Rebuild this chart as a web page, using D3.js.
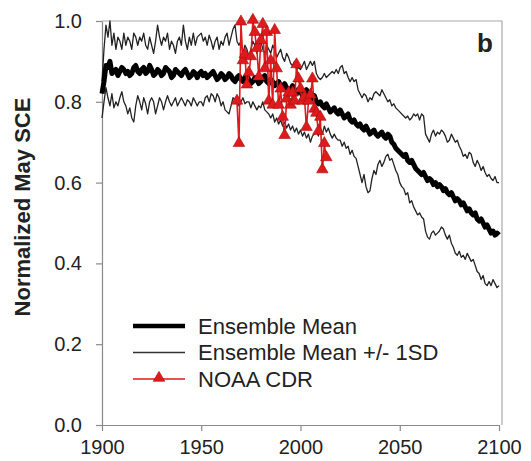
<!DOCTYPE html>
<html>
<head>
<meta charset="utf-8">
<script src="https://cdn.jsdelivr.net/npm/d3@7"></script>
<style>
  body { margin: 0; background: #fff; }
  svg text { font-family: Arial, "Liberation Sans", sans-serif; fill: #222; }
</style>
</head>
<body>
<div class="chart"></div>
<script>
// model years 1900..2100 (categories)
const years = d3.range(1900, 2101)

// ensemble mean, normalized May SCE
const meanSCE = [
  0.82, 0.85, 0.89, 0.885, 0.90, 0.87, 0.875, 0.88, 0.865, 0.875,
  0.885, 0.88, 0.87, 0.875, 0.865, 0.87, 0.885, 0.89, 0.875, 0.87,
  0.88, 0.885, 0.87, 0.875, 0.89, 0.88, 0.865, 0.87, 0.88, 0.875,
  0.865, 0.87, 0.885, 0.88, 0.875, 0.86, 0.865, 0.88, 0.875, 0.87,
  0.865, 0.875, 0.88, 0.87, 0.86, 0.865, 0.875, 0.87, 0.86, 0.87,
  0.875, 0.865, 0.87, 0.86, 0.865, 0.87, 0.875, 0.865, 0.855, 0.86,
  0.87, 0.865, 0.855, 0.86, 0.87, 0.865, 0.855, 0.85, 0.86, 0.865,
  0.855, 0.85, 0.86, 0.865, 0.855, 0.845, 0.85, 0.86, 0.855, 0.845,
  0.85, 0.86, 0.865, 0.85, 0.845, 0.855, 0.85, 0.84, 0.845, 0.85,
  0.84, 0.835, 0.845, 0.835, 0.825, 0.83, 0.84, 0.83, 0.82, 0.83,
  0.825, 0.815, 0.82, 0.83, 0.815, 0.805, 0.81, 0.815, 0.80, 0.795,
  0.80, 0.79, 0.785, 0.795, 0.785, 0.775, 0.78, 0.785, 0.775, 0.77,
  0.78, 0.77, 0.76, 0.765, 0.77, 0.755, 0.75, 0.755, 0.745, 0.74,
  0.745, 0.735, 0.73, 0.74, 0.73, 0.72, 0.725, 0.73, 0.72, 0.715,
  0.72, 0.725, 0.715, 0.71, 0.72, 0.715, 0.70, 0.695, 0.685, 0.68,
  0.675, 0.67, 0.665, 0.67, 0.655, 0.65, 0.655, 0.645, 0.635, 0.63,
  0.625, 0.62, 0.625, 0.615, 0.605, 0.61, 0.605, 0.595, 0.60, 0.59,
  0.595, 0.59, 0.58, 0.585, 0.575, 0.57, 0.575, 0.565, 0.555, 0.56,
  0.555, 0.545, 0.55, 0.54, 0.53, 0.535, 0.525, 0.52, 0.525, 0.51,
  0.505, 0.51, 0.50, 0.49, 0.495, 0.485, 0.475, 0.48, 0.47, 0.475,
  0.47
]

// ensemble mean + 1SD
const upperSCE = [
  0.85, 0.93, 0.99, 0.96, 1.00, 0.94, 0.97, 0.93, 0.96, 0.95,
  0.93, 0.97, 0.94, 0.96, 0.95, 0.93, 0.97, 0.96, 0.94, 0.96,
  0.95, 0.97, 0.94, 0.93, 0.96, 0.94, 0.92, 0.95, 0.99, 0.96,
  0.94, 0.96, 0.95, 0.97, 0.93, 0.95, 0.94, 0.92, 0.95, 0.96,
  0.94, 0.99, 0.95, 0.93, 0.96, 0.94, 0.97, 0.94, 0.96, 0.965,
  0.97, 0.95, 0.96, 0.94, 0.965, 0.95, 0.93, 0.95, 0.96, 0.93,
  0.95, 0.94, 0.96, 0.97, 0.94, 0.96, 0.98, 0.99, 0.95, 0.94,
  0.95, 0.92, 0.94, 0.93, 0.91, 0.93, 0.95, 0.94, 0.92, 0.94,
  0.95, 0.93, 0.92, 0.94, 0.93, 0.92, 0.94, 0.93, 0.91, 0.92,
  0.93, 0.91, 0.90, 0.92, 0.91, 0.895, 0.89, 0.90, 0.88, 0.885,
  0.88, 0.89, 0.90, 0.88, 0.89, 0.90, 0.89, 0.90, 0.87, 0.86,
  0.855, 0.86, 0.87, 0.86, 0.865, 0.87, 0.875, 0.87, 0.88, 0.87,
  0.885, 0.89, 0.87, 0.875, 0.86, 0.85, 0.86, 0.85, 0.855, 0.83,
  0.82, 0.81, 0.82, 0.815, 0.80, 0.81, 0.805, 0.82, 0.825, 0.82,
  0.815, 0.83, 0.82, 0.81, 0.80, 0.805, 0.79, 0.795, 0.785, 0.78,
  0.775, 0.77, 0.765, 0.76, 0.765, 0.755, 0.76, 0.77, 0.765, 0.77,
  0.755, 0.77, 0.765, 0.72, 0.71, 0.70, 0.72, 0.73, 0.715, 0.725,
  0.72, 0.73, 0.725, 0.715, 0.70, 0.705, 0.72, 0.71, 0.70, 0.705,
  0.69, 0.68, 0.665, 0.67, 0.66, 0.675, 0.67, 0.65, 0.64, 0.655,
  0.645, 0.63, 0.64, 0.625, 0.615, 0.62, 0.61, 0.605, 0.615, 0.60,
  0.60
]

// ensemble mean - 1SD
const lowerSCE = [
  0.76, 0.80, 0.835, 0.81, 0.79, 0.82, 0.785, 0.80, 0.79, 0.81,
  0.825, 0.80, 0.79, 0.77, 0.785, 0.76, 0.75, 0.79, 0.815, 0.80,
  0.78, 0.81, 0.795, 0.77, 0.80, 0.81, 0.80, 0.77, 0.79, 0.81,
  0.80, 0.78, 0.80, 0.815, 0.80, 0.79, 0.80, 0.81, 0.79, 0.80,
  0.81, 0.80, 0.79, 0.805, 0.80, 0.79, 0.81, 0.80, 0.79, 0.80,
  0.80, 0.79, 0.81, 0.815, 0.80, 0.82, 0.815, 0.80, 0.82, 0.81,
  0.79, 0.80, 0.78, 0.775, 0.77, 0.79, 0.81, 0.805, 0.80, 0.79,
  0.80, 0.81, 0.795, 0.80, 0.80, 0.785, 0.80, 0.79, 0.78, 0.79,
  0.785, 0.80, 0.78, 0.775, 0.77, 0.76, 0.77, 0.75, 0.76, 0.745,
  0.755, 0.74, 0.75, 0.735, 0.745, 0.73, 0.74, 0.725, 0.735, 0.72,
  0.73, 0.715, 0.725, 0.71, 0.72, 0.70, 0.715, 0.72, 0.73, 0.715,
  0.735, 0.72, 0.74, 0.725, 0.735, 0.72, 0.71, 0.72, 0.71, 0.705,
  0.705, 0.69, 0.70, 0.685, 0.69, 0.67, 0.68, 0.665, 0.66, 0.64,
  0.62, 0.60, 0.62, 0.59, 0.575, 0.58, 0.61, 0.63, 0.62, 0.645,
  0.655, 0.64, 0.65, 0.665, 0.67, 0.655, 0.66, 0.645, 0.63, 0.62,
  0.60, 0.59, 0.585, 0.57, 0.575, 0.55, 0.555, 0.54, 0.53, 0.52,
  0.525, 0.515, 0.51, 0.48, 0.465, 0.46, 0.475, 0.48, 0.47, 0.475,
  0.48, 0.49, 0.485, 0.47, 0.46, 0.47, 0.45, 0.44, 0.425, 0.42,
  0.43, 0.415, 0.42, 0.41, 0.425, 0.415, 0.405, 0.41, 0.395, 0.38,
  0.375, 0.36, 0.37, 0.35, 0.345, 0.355, 0.345, 0.36, 0.35, 0.34,
  0.345
]

// observed NOAA CDR
const noaaYears = d3.range(1968, 2014)
const noaaSCE = [
  0.80, 0.695, 0.996, 0.90, 0.915, 0.84, 0.87, 0.91, 1.00, 0.97,
  0.93, 0.86, 0.95, 0.99, 0.88, 0.97, 0.80, 0.90, 0.79, 0.975,
  0.88, 0.79, 0.83, 0.76, 0.715, 0.805, 0.82, 0.79, 0.82, 0.80,
  0.89, 0.855, 0.83, 0.80, 0.81, 0.735, 0.80, 0.815, 0.855, 0.78,
  0.77, 0.725, 0.76, 0.63, 0.695, 0.66
]

const xTicks = [1900, 1950, 2000, 2050, 2100]
const yTicks = [0, 0.2, 0.4, 0.6, 0.8, 1.0]
const legendLabels = ['Ensemble Mean', 'Ensemble Mean +/- 1SD', 'NOAA CDR']

const svgWidth = 531
const svgHeight = 461
const plot = { left: 102, right: 499, top: 21, bottom: 425 }
const axisColor = '#8a8a8a'
const red = '#e0191c'

const svg = d3.select('.chart')
    .append('svg')
    .attr('width', svgWidth)
    .attr('height', svgHeight)

const xScale = d3.scaleLinear()
    .domain([1900, 2100])
    .range([plot.left, plot.right])

const yScale = d3.scaleLinear()
    .domain([0, 1])
    .range([plot.bottom, plot.top])

// frame top + right
svg.append('path')
    .attr('d', `M${plot.left},${plot.top}H${plot.right + 3}V${plot.bottom}`)
    .attr('fill', 'none')
    .attr('stroke', '#aaa')
    .attr('stroke-width', 1.2)

const xAxis = d3.axisBottom(xScale)
    .tickValues(xTicks)
    .tickFormat(d3.format('d'))
    .tickSize(6)
    .tickSizeOuter(0)
    .tickPadding(9)

const yAxis = d3.axisLeft(yScale)
    .tickValues(yTicks)
    .tickFormat(d3.format('.1f'))
    .tickSize(6)
    .tickSizeOuter(0)
    .tickPadding(14)

const gx = svg.append('g')
    .attr('transform', `translate(0,${plot.bottom})`)
    .call(xAxis)
const gy = svg.append('g')
    .attr('transform', `translate(${plot.left},0)`)
    .call(yAxis)

for (const g of [gx, gy]) {
    g.select('.domain').attr('stroke', axisColor).attr('stroke-width', 1.2)
    g.selectAll('.tick line').attr('stroke', axisColor).attr('stroke-width', 1.2)
    g.selectAll('.tick text')
        .style('font-size', '20px')
        .style('font-family', 'Arial, "Liberation Sans", sans-serif')
        .attr('fill', '#2a2a2a')
}

// series lines
const line = d3.line()
    .x(d => xScale(d[0]))
    .y(d => yScale(d[1]))

const sdLines = [upperSCE, lowerSCE]
svg.append('g')
    .selectAll('path')
    .data(sdLines)
    .enter()
    .append('path')
    .attr('d', s => line(years.map((y, i) => [y, s[i]])))
    .attr('fill', 'none')
    .attr('stroke', '#222')
    .attr('stroke-width', 1.3)
    .attr('stroke-linejoin', 'round')

svg.append('path')
    .attr('d', line(years.map((y, i) => [y, meanSCE[i]])))
    .attr('fill', 'none')
    .attr('stroke', '#000')
    .attr('stroke-width', 5)
    .attr('stroke-linejoin', 'round')

// NOAA observations
const noaa = noaaYears.map((y, i) => [y, noaaSCE[i]])
svg.append('path')
    .attr('d', line(noaa))
    .attr('fill', 'none')
    .attr('stroke', red)
    .attr('stroke-width', 1.6)

const tri = d3.symbol().type(d3.symbolTriangle).size(58)
svg.append('g')
    .selectAll('path')
    .data(noaa)
    .enter()
    .append('path')
    .attr('d', tri)
    .attr('transform', d => `translate(${xScale(d[0])},${yScale(d[1]) - 1})`)
    .attr('fill', red)
    .attr('stroke', '#a31010')
    .attr('stroke-width', 0.6)

// legend
const legend = svg.append('g').attr('transform', 'translate(133,326)')
const legendRow = 26.5
const legendStyles = [
    { stroke: '#000', width: 4.5 },
    { stroke: '#333', width: 1.3 },
    { stroke: red, width: 1.6 }
]
legendLabels.forEach((label, i) => {
    const g = legend.append('g').attr('transform', `translate(0,${i * legendRow})`)
    g.append('line')
        .attr('x1', 0).attr('x2', 52)
        .attr('stroke', legendStyles[i].stroke)
        .attr('stroke-width', legendStyles[i].width)
    if (i === 2) {
        g.append('path')
            .attr('d', tri)
            .attr('transform', 'translate(26,-1)')
            .attr('fill', red)
            .attr('stroke', '#a31010')
            .attr('stroke-width', 0.6)
    }
    g.append('text')
        .attr('x', 65)
        .attr('dy', '0.36em')
        .style('font-size', '22px')
        .text(label)
})

// panel letter
svg.append('text')
    .attr('x', 485)
    .attr('y', 52)
    .attr('text-anchor', 'middle')
    .style('font-size', '26px')
    .style('font-weight', 'bold')
    .text('b')

// y axis title
svg.append('text')
    .attr('transform', 'translate(30,207) rotate(-90)')
    .attr('text-anchor', 'middle')
    .style('font-size', '22px')
    .style('font-weight', 'bold')
    .text('Normalized May SCE')
</script>
</body>
</html>
